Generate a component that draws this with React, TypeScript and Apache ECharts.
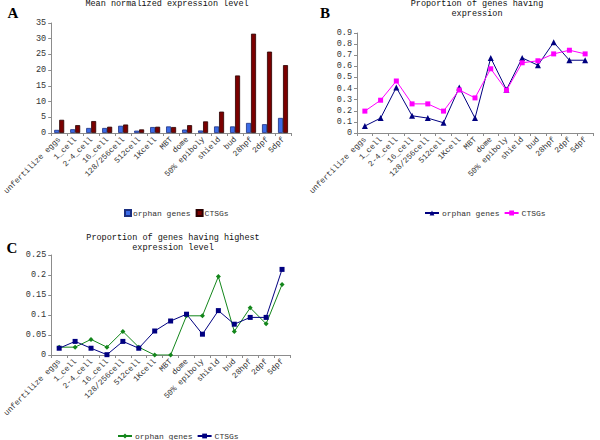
import React, { useEffect, useRef } from "react";
import * as echarts from "echarts";

const categories = [
  "unfertilize eggs", "1_cell", "2-4_cell", "16_cell", "128/256cell", "512cell", "1Kcell",
  "MBT", "dome", "50% epiboly", "shield", "bud", "28hpf", "2dpf", "5dpf",
];
const meanOrphan = [1.0, 1.2, 1.6, 1.6, 2.3, 0.75, 1.9, 2.1, 1.1, 0.8, 2.1, 2.1, 3.2, 2.8, 4.8];
const meanCTSG = [4.2, 2.5, 3.8, 2.0, 2.7, 1.15, 2.0, 1.9, 2.5, 3.7, 6.8, 18.3, 31.6, 25.9, 21.6];
const propOrphan = [0.063, 0.134, 0.41, 0.155, 0.134, 0.092, 0.41, 0.134, 0.676, 0.39, 0.676, 0.61, 0.816, 0.655, 0.655];
const propCTSG = [0.197, 0.295, 0.468, 0.262, 0.262, 0.197, 0.387, 0.316, 0.578, 0.384, 0.632, 0.65, 0.712, 0.745, 0.712];
const highOrphan = [0.0196, 0.0196, 0.039, 0.0196, 0.059, 0.0196, 0, 0, 0.098, 0.098, 0.196, 0.059, 0.118, 0.078, 0.176];
const highCTSG = [0.0169, 0.034, 0.0169, 0.0008, 0.034, 0.0169, 0.06, 0.085, 0.102, 0.052, 0.111, 0.077, 0.094, 0.094, 0.214];

const FONT = "Liberation Mono";
const TXT = "#333";
const AX = "#8c8c8c";

function xAxisFor(gridIndex: number) {
  return {
    type: "category",
    gridIndex,
    data: categories,
    boundaryGap: true,
    axisLine: { lineStyle: { color: AX, width: 1 } },
    axisTick: { show: true, length: 3, lineStyle: { color: AX } },
    axisLabel: {
      interval: 0,
      rotate: 45,
      fontSize: 8,
      fontFamily: FONT,
      color: TXT,
      margin: 5,
    },
    splitLine: { show: false },
  };
}

function yAxisFor(gridIndex: number, max: number, interval: number) {
  return {
    type: "value",
    gridIndex,
    min: 0,
    max,
    interval,
    axisLine: { show: true, lineStyle: { color: AX, width: 1 } },
    axisTick: { show: true, length: 3, lineStyle: { color: AX } },
    axisLabel: { fontSize: 8.5, fontFamily: FONT, color: TXT, margin: 5 },
    splitLine: { show: false },
  };
}

export default function App() {
  const ref = useRef<HTMLDivElement>(null);
  useEffect(() => {
    if (!ref.current) return;
    const chart = echarts.init(ref.current, undefined, { renderer: "svg" });
    const fmt = (name: string) => name.split("|")[1];
    const option = {
      animation: false,
      backgroundColor: "#fff",
      textStyle: { fontFamily: FONT },
      grid: [
        { left: 49, top: 23, width: 242, height: 110 },
        { left: 357, top: 33, width: 236, height: 100 },
        { left: 49, top: 255, width: 241, height: 100 },
      ],
      xAxis: [xAxisFor(0), xAxisFor(1), xAxisFor(2)],
      yAxis: [yAxisFor(0, 35, 5), yAxisFor(1, 0.9, 0.1), yAxisFor(2, 0.25, 0.05)],
      legend: [
        {
          data: ["A|orphan genes", "A|CTSGs"],
          left: 119,
          top: 204,
          icon: "rect",
          itemWidth: 6,
          itemHeight: 6,
          itemGap: 5,
          formatter: fmt,
          textStyle: { fontSize: 8, fontFamily: FONT, color: TXT, padding: [0, 0, 0, -3] },
        },
        {
          data: ["B|orphan genes", "B|CTSGs"],
          left: 419,
          top: 204,
          itemWidth: 14,
          itemHeight: 6,
          itemGap: 4,
          formatter: fmt,
          textStyle: { fontSize: 8, fontFamily: FONT, color: TXT, padding: [0, 0, 0, -2] },
        },
        {
          data: ["C|orphan genes", "C|CTSGs"],
          left: 112,
          top: 427,
          itemWidth: 14,
          itemHeight: 6,
          itemGap: 4,
          formatter: fmt,
          textStyle: { fontSize: 8, fontFamily: FONT, color: TXT, padding: [0, 0, 0, -2] },
        },
      ],
      series: [
        {
          name: "A|orphan genes",
          type: "bar",
          xAxisIndex: 0,
          yAxisIndex: 0,
          data: meanOrphan,
          barWidth: 5,
          barGap: "0%",
          itemStyle: { color: "#3b6be6", borderColor: "#1b2f80", borderWidth: 0.8 },
        },
        {
          name: "A|CTSGs",
          type: "bar",
          xAxisIndex: 0,
          yAxisIndex: 0,
          data: meanCTSG,
          barWidth: 5,
          barGap: "0%",
          itemStyle: { color: "#7a0000", borderColor: "#2a0000", borderWidth: 0.8 },
        },
        {
          name: "B|orphan genes",
          type: "line",
          xAxisIndex: 1,
          yAxisIndex: 1,
          data: propOrphan,
          symbol: "triangle",
          symbolSize: 6,
          lineStyle: { color: "#000080", width: 1 },
          itemStyle: { color: "#000080" },
        },
        {
          name: "B|CTSGs",
          type: "line",
          xAxisIndex: 1,
          yAxisIndex: 1,
          data: propCTSG,
          symbol: "rect",
          symbolSize: 5,
          lineStyle: { color: "#ff00ff", width: 1 },
          itemStyle: { color: "#ff00ff" },
        },
        {
          name: "C|orphan genes",
          type: "line",
          xAxisIndex: 2,
          yAxisIndex: 2,
          data: highOrphan,
          symbol: "diamond",
          symbolSize: 5,
          lineStyle: { color: "#13861b", width: 1 },
          itemStyle: { color: "#13861b" },
        },
        {
          name: "C|CTSGs",
          type: "line",
          xAxisIndex: 2,
          yAxisIndex: 2,
          data: highCTSG,
          symbol: "rect",
          symbolSize: 5,
          lineStyle: { color: "#000080", width: 1 },
          itemStyle: { color: "#000080" },
        },
      ],
      graphic: [
        {
          type: "text",
          x: 167,
          y: 4,
          style: {
            text: "Mean normalized expression level",
            fontSize: 8.5,
            fontFamily: FONT,
            fill: "#111",
            textAlign: "center",
            textVerticalAlign: "middle",
          },
        },
        {
          type: "text",
          x: 477,
          y: 9,
          style: {
            text: "Proportion of genes having\nexpression",
            fontSize: 8.5,
            lineHeight: 10,
            fontFamily: FONT,
            fill: "#111",
            textAlign: "center",
            textVerticalAlign: "middle",
          },
        },
        {
          type: "text",
          x: 173,
          y: 243,
          style: {
            text: "Proportion of genes having highest\nexpression level",
            fontSize: 8.5,
            lineHeight: 10,
            fontFamily: FONT,
            fill: "#111",
            textAlign: "center",
            textVerticalAlign: "middle",
          },
        },
        {
          type: "text",
          x: 13,
          y: 13,
          style: { text: "A", fontSize: 15, fontWeight: "bold", fontFamily: "Liberation Serif", fill: "#000", textAlign: "center", textVerticalAlign: "middle" },
        },
        {
          type: "text",
          x: 325,
          y: 13,
          style: { text: "B", fontSize: 15, fontWeight: "bold", fontFamily: "Liberation Serif", fill: "#000", textAlign: "center", textVerticalAlign: "middle" },
        },
        {
          type: "text",
          x: 12,
          y: 248,
          style: { text: "C", fontSize: 15, fontWeight: "bold", fontFamily: "Liberation Serif", fill: "#000", textAlign: "center", textVerticalAlign: "middle" },
        },
      ],
    };
    chart.setOption(option as any);
    return () => chart.dispose();
  }, []);
  return (
    <div
      ref={ref}
      style={{ position: "fixed", left: 0, top: 0, width: 600, height: 440, background: "#fff" }}
    />
  );
}
